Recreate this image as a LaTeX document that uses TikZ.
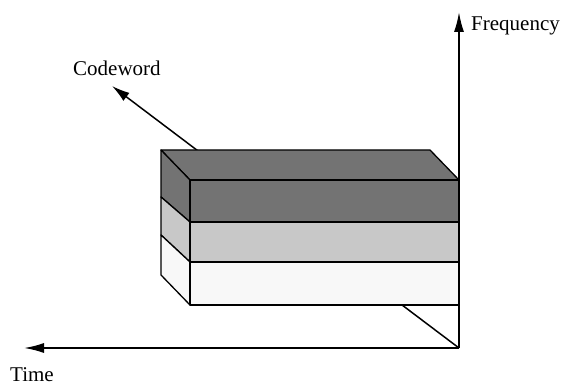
\documentclass[tikz,border=0pt]{standalone}
\usepackage{fontspec}
\setmainfont{Liberation Serif}
\usetikzlibrary{arrows.meta}
\begin{document}
\begin{tikzpicture}[x=1pt,y=-1pt,
  axis/.style={line width=1.8pt,-{Latex[length=20pt,width=10pt]}},
  slant/.style={line width=1.5pt,-{Latex[length=18pt,width=10pt]}},
  face/.style={draw=black,line width=1.3pt,line join=round},
  lbl/.style={font=\fontsize{21}{25}\selectfont,inner sep=0pt,anchor=base west}]
\useasboundingbox (0,0) rectangle (563,385);
\definecolor{darklayer}{HTML}{737373}
\definecolor{midlayer}{HTML}{C8C8C8}
\definecolor{lightlayer}{HTML}{F8F8F8}

% origin and axis ends
\coordinate (O) at (459,348);
\coordinate (freqEnd) at (459,12);
\coordinate (timeEnd) at (24,348);
\coordinate (codeEnd) at (112,86);

% labels
\node[lbl] (codeword) at (73,75.5) {Codeword};
\node[lbl] (frequency) at (471,31) {Frequency};
\node[lbl] (time) at (10,381) {Time};

% codeword direction (passes behind the block)
\draw[slant] (O) -- (codeEnd);

% front-face corners of the block layers
\coordinate (fl0) at (190,180); \coordinate (fr0) at (459,180);
\coordinate (fl1) at (190,222); \coordinate (fr1) at (459,222);
\coordinate (fl2) at (190,262); \coordinate (fr2) at (459,262);
\coordinate (fl3) at (190,305); \coordinate (fr3) at (459,305);
% matching back corners
\coordinate (bl0) at (161,150); \coordinate (br0) at (430,150);
\coordinate (bl1) at (161,197);
\coordinate (bl2) at (161,235);
\coordinate (bl3) at (161,275);

% top face
\filldraw[face,fill=darklayer] (bl0) -- (br0) -- (fr0) -- (fl0) -- cycle;
% layers: left side and front
\filldraw[face,fill=darklayer] (bl0) -- (fl0) -- (fl1) -- (bl1) -- cycle;
\filldraw[face,fill=darklayer] (fl0) rectangle (fr1);
\filldraw[face,fill=midlayer] (bl1) -- (fl1) -- (fl2) -- (bl2) -- cycle;
\filldraw[face,fill=midlayer] (fl1) rectangle (fr2);
\filldraw[face,fill=lightlayer] (bl2) -- (fl2) -- (fl3) -- (bl3) -- cycle;
\filldraw[face,fill=lightlayer] (fl2) rectangle (fr3);

% axes
\draw[axis] (O) -- (freqEnd);
\draw[axis] (O) -- (timeEnd);
\end{tikzpicture}
\end{document}
